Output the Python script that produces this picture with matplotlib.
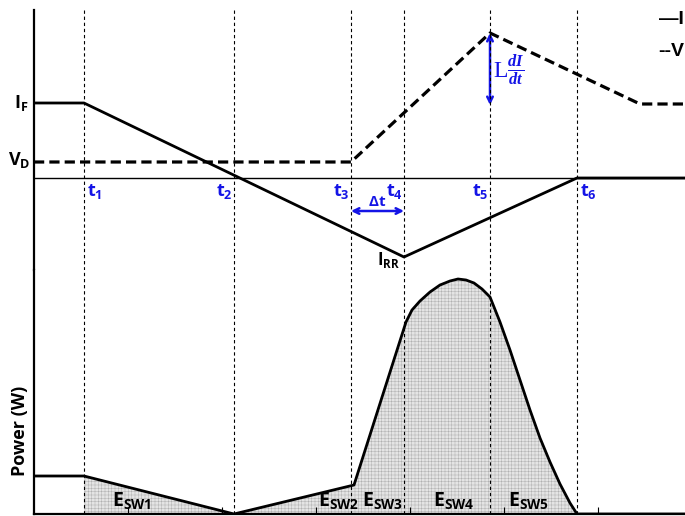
import matplotlib
matplotlib.use('Agg')
from matplotlib import pyplot as plt

plt.rcParams['font.family'] = ['Open Sans', 'DejaVu Sans']
plt.rcParams['mathtext.fontset'] = 'custom'
plt.rcParams['mathtext.rm'] = 'Liberation Serif'
plt.rcParams['mathtext.it'] = 'Liberation Serif:italic:bold'
plt.rcParams['mathtext.bf'] = 'Open Sans:bold'
plt.rcParams['hatch.linewidth'] = 0.3

# switching instants (time axis, arbitrary units)
t_marks = [50, 200, 317, 370, 456, 543]
t_labels = [r'$\mathbf{t_%d}$' % (i + 1) for i in range(len(t_marks))]
t_label_right = [True, False, False, False, False, True]

# diode current
i_time = [0, 50, 370, 543, 651]
i_vals = [75, 75, -79, 0, 0]

# diode voltage
v_time = [0, 317, 456, 606, 651]
v_vals = [16, 16, 145, 74, 74]

# power loss
p_time = [0, 50, 200, 320, 372, 378, 386, 396, 406, 416, 424, 432, 440, 448, 456,
          466, 476, 486, 496, 506, 516, 526, 536, 543, 651]
p_vals = [38, 38, 0, 29, 192, 204, 213, 222, 229, 233, 235, 234, 231, 225, 217,
          192, 164, 134, 104, 76, 52, 30, 11, 0, 0]

e_labels = [r'$\mathbf{E_{SW1}}$', r'$\mathbf{E_{SW2}}$', r'$\mathbf{E_{SW3}}$',
            r'$\mathbf{E_{SW4}}$', r'$\mathbf{E_{SW5}}$']
e_label_x = [78, 284, 328, 399, 474]

legend_labels = ['—I', '--V']

blue = '#1414e6'

fig = plt.figure(figsize=(6.85, 5.16), dpi=100)
ax_top = fig.add_axes([34 / 685, 246 / 516, 651 / 685, 260 / 516])
ax_bot = fig.add_axes([34 / 685, 2 / 516, 651 / 685, 244 / 516])

for ax in (ax_top, ax_bot):
    ax.set_xlim(0, 651)
    ax.set_xticks([])
    ax.set_yticks([])
    for s in ax.spines.values():
        s.set_visible(False)
    ax.spines['left'].set_visible(True)
    ax.spines['left'].set_linewidth(1.6)
    for t in t_marks:
        ax.axvline(t, color='black', lw=0.8, ls=(0, (3, 2.5)), zorder=4)

ax_top.set_ylim(-92, 168)
ax_bot.set_ylim(0, 244)

# top panel: current and voltage
ax_top.axhline(0, color='black', lw=1.0, zorder=2)
ax_top.plot(i_time, i_vals, '-k', lw=2.0, zorder=5)
ax_top.plot(v_time, v_vals, color='black', lw=2.3, ls=(0, (3.2, 1.6)), zorder=5)

for t, lab, right in zip(t_marks, t_labels, t_label_right):
    ax_top.text(t + (3 if right else -1), -4, lab, color=blue, fontsize=13,
                ha='left' if right else 'right', va='top')

ax_top.text(-6, 75, r'$\mathbf{I_F}$', fontsize=13, ha='right', va='center')
ax_top.text(-4, 18, r'$\mathbf{V_D}$', fontsize=13, ha='right', va='center')
ax_top.text(366, -82, r'$\mathbf{I_{RR}}$', fontsize=12, ha='right', va='center')

ax_top.annotate('', xy=(t_marks[3], -33), xytext=(t_marks[2], -33),
                arrowprops=dict(arrowstyle='<->', color=blue, lw=1.8,
                                shrinkA=0, shrinkB=0))
ax_top.text((t_marks[2] + t_marks[3]) / 2, -32, r'$\mathbf{\Delta t}$',
            color=blue, fontsize=11, ha='center', va='bottom')

ax_top.annotate('', xy=(t_marks[4], 73), xytext=(t_marks[4], 145),
                arrowprops=dict(arrowstyle='<->', color=blue, lw=1.8,
                                shrinkA=0, shrinkB=0))
ax_top.text(t_marks[4] + 3, 108, r'$\mathrm{L}\frac{dI}{dt}$', color=blue,
            fontsize=17, ha='left', va='center')

for lab, y in zip(legend_labels, [158, 126]):
    ax_top.text(650, y, lab, fontsize=14, fontweight='bold', ha='right',
                va='center', family='Liberation Sans')

# bottom panel: power
ax_bot.spines['bottom'].set_visible(True)
ax_bot.spines['bottom'].set_linewidth(1.6)
ax_bot.set_xticks([94, 188, 282, 376, 470, 564])
ax_bot.tick_params(axis='x', direction='in', length=5, width=0.8, labelbottom=False)
ax_bot.plot(p_time, p_vals, '-k', lw=2.0, zorder=5)
mask_t = [x for x in p_time if t_marks[0] <= x <= t_marks[5]]
mask_p = [p for x, p in zip(p_time, p_vals) if t_marks[0] <= x <= t_marks[5]]
ax_bot.fill_between(mask_t, mask_p, 0, facecolor='#e4e4e4', edgecolor='#a8a8a8',
                    hatch='+++++', lw=0, zorder=1)

for x, lab in zip(e_label_x, e_labels):
    ax_bot.text(x, 2, lab, fontsize=14, ha='left', va='bottom', zorder=6)

ax_bot.set_ylabel('Power (W)', fontsize=13, fontweight='bold')
ax_bot.yaxis.set_label_coords(-0.008, 0.34)

plt.savefig('out.png', dpi=100)
plt.close()
